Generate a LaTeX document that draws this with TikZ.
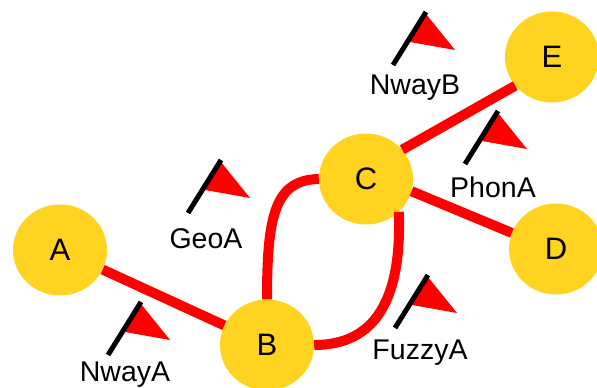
\documentclass[tikz,border=0pt]{standalone}
\usepackage{fontspec}
\setmainfont{Liberation Sans}
\usetikzlibrary{shapes.geometric}
\definecolor{nodeyellow}{RGB}{255,211,32}
\tikzset{
	city/.style={ellipse, fill=nodeyellow, inner sep=0pt, minimum width=94pt, minimum height=91pt, font=\fontsize{31}{31}\selectfont},
	link/.style={draw=red, line width=10pt},
	flaglabel/.style={inner sep=0pt, font=\fontsize{28.5}{28.5}\selectfont}
}
\begin{document}
\begin{tikzpicture}[x=1pt, y=-1pt]
	\useasboundingbox (0,0) rectangle (597,388);
	\node[city] (A) at (60,250) {A};
	\node[city] (B) at (267,345) {B};
	\node[city] (C) at (366,179) {C};
	\node[city] (D) at (556,249) {D};
	\node[city] (E) at (552,57) {E};
	\draw[link](A) to (B);
	\draw[link](C.39) to (E.218);
	\draw[link](C.-15) to (D.160);
	\draw[link](B.north) .. controls (267,215) and (275,180) .. (C.west);
	\draw[link](B.east) .. controls (375,345) and (402,300) .. (C.-45);
	\foreach \bx/\by/\lx/\ly/\lab in {393/65/415/88/NwayB, 465/164/493/187/PhonA, 188/213/206/239/GeoA, 395/328/420/353/FuzzyA, 108/355/125/375/NwayA}{
		\fill[red] (\bx+33,\by-51) -- (\bx+62,\by-15) -- (\bx+17,\by-23) -- cycle;
		\draw[line width=5pt] (\bx,\by) -- (\bx+33,\by-53);
		\node[flaglabel] (\lab) at (\lx,\ly) {\lab};
	}
\end{tikzpicture}
\end{document}
